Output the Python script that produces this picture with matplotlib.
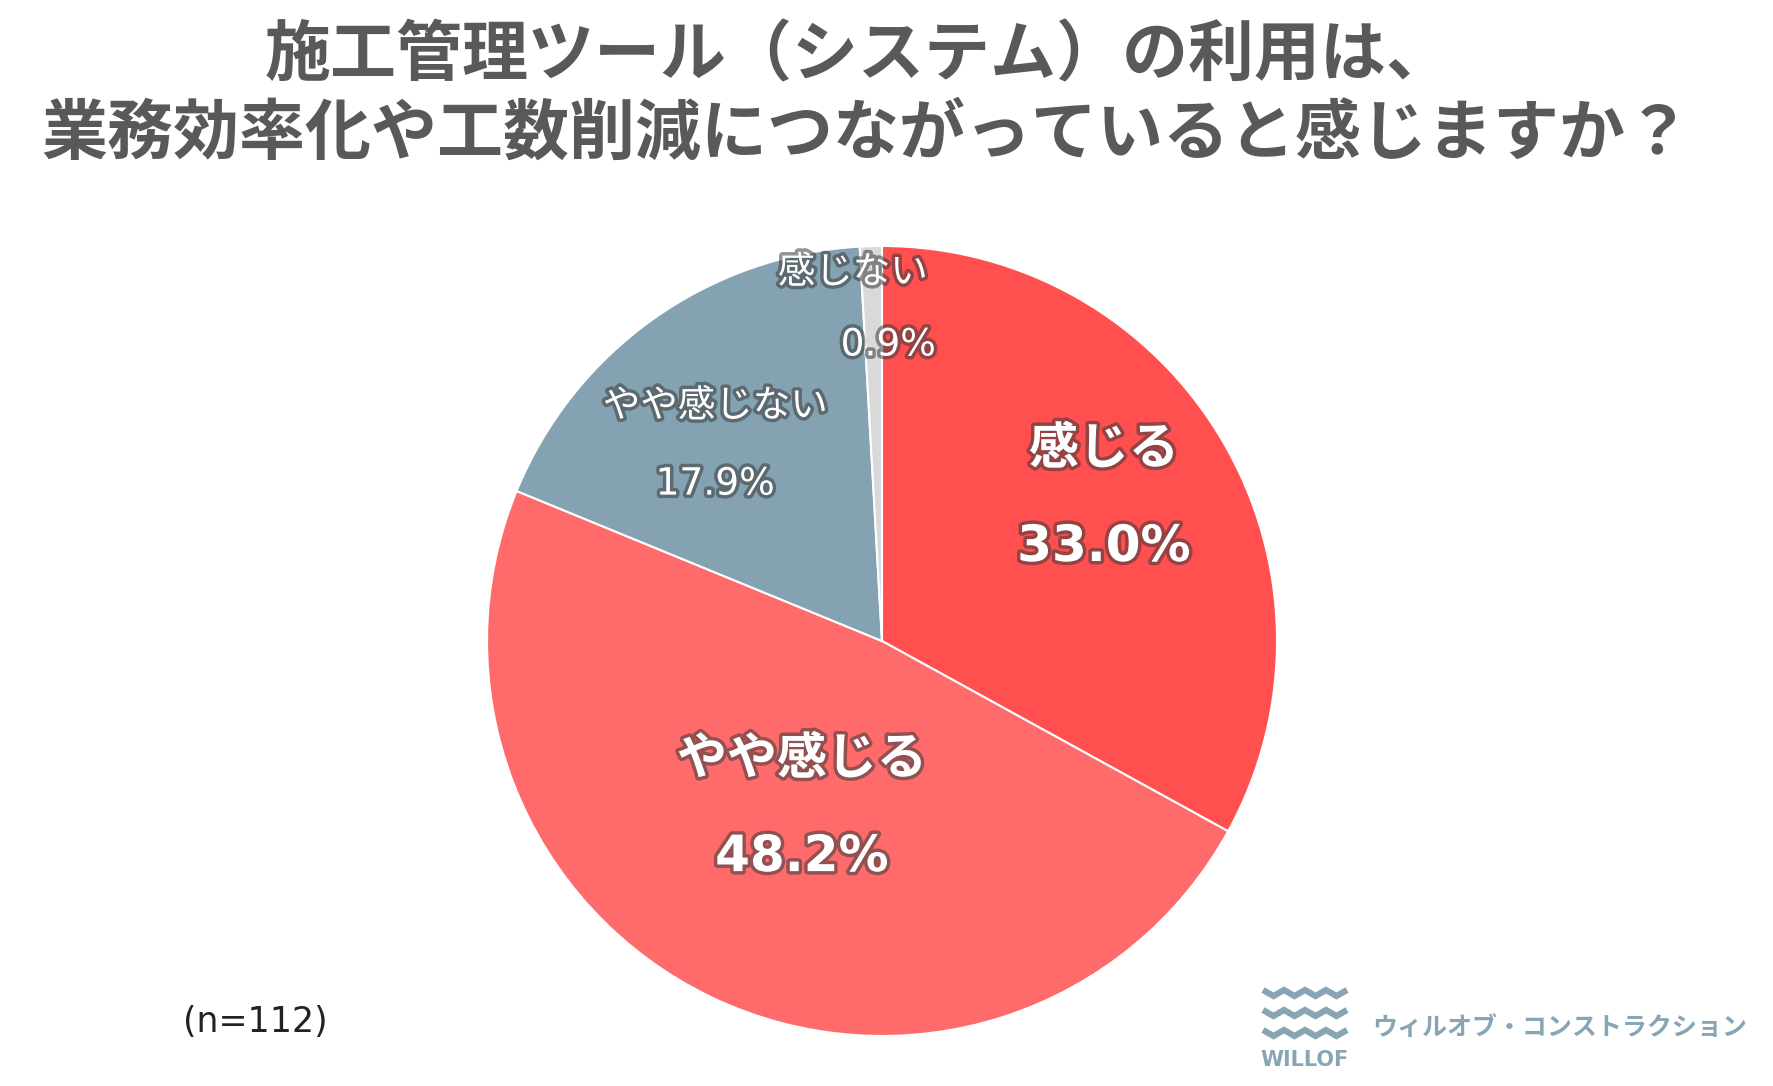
import numpy as np
import matplotlib
matplotlib.use("Agg")
import matplotlib.pyplot as plt
import matplotlib.patheffects as pe

plt.rcParams['font.family'] = ['DejaVu Sans', 'Noto Sans CJK JP']

labels = ["感じる", "やや感じる", "やや感じない", "感じない"]
values = [33.0, 48.2, 17.9, 0.9]
colors = ["#FF4F4F", "#FF6B6B", "#84A2B2", "#D9D9D9"]
title_lines = ["施工管理ツール（システム）の利用は、",
               "業務効率化や工数削減につながっていると感じますか？"]
n_text = "(n=112)"

W, H = 1774, 1086
fig = plt.figure(figsize=(W / 100, H / 100), dpi=100)
fig.patch.set_facecolor("white")

cx, cy, r = 882, 641, 395
ax = fig.add_axes([(cx - r) / W, (H - cy - r) / H, 2 * r / W, 2 * r / H])
wedges, _ = ax.pie(values, colors=colors, startangle=90, counterclock=False,
                   wedgeprops=dict(edgecolor="white", linewidth=1.5))
ax.set_xlim(-1, 1)
ax.set_ylim(-1, 1)
ax.set_axis_off()

# label placement per slice (radius, nudge x, nudge y in axes data units)
label_r = [0.67, 0.47, 0.65, 0.85]
nudge = [(-0.015, 0.02), (0.0, 0.0), (-0.045, -0.035), (-0.03, -0.01)]
pct_dx = [0, 0, 0, 0.07]   # extra shift of percent line for the thin slice
name_dx = [0, 0, 0, -0.02]
bold = [True, True, False, False]
sizes = [36, 36, 27, 27]
gaps = [35, 35, 28, 26]

glow = [pe.withStroke(linewidth=5, foreground="#3a3a3a", alpha=0.55)]
cum = np.cumsum([0] + values[:-1])
for i, (lab, v) in enumerate(zip(labels, values)):
    ang = np.deg2rad(90 - (cum[i] + v / 2) / 100 * 360)
    x = label_r[i] * np.cos(ang) + nudge[i][0]
    y = label_r[i] * np.sin(ang) + nudge[i][1]
    w = "bold" if bold[i] else "normal"
    for txt, off, dx in [(lab, gaps[i], name_dx[i]),
                         (f"{v:.1f}%", -gaps[i], pct_dx[i])]:
        ax.annotate(txt, (x + dx, y), xytext=(0, off), textcoords="offset points",
                    ha="center", va="center", fontsize=sizes[i], fontweight=w,
                    color="white", path_effects=glow)

fig.text(858 / W, 1 - 57 / H, title_lines[0], ha="center", va="center",
         fontsize=47.5, fontweight="bold", color="#595959")
fig.text(866 / W, 1 - 136 / H, title_lines[1], ha="center", va="center",
         fontsize=47.5, fontweight="bold", color="#595959")

fig.text(183 / W, 1 - 1022 / H, n_text, ha="left", va="center", fontsize=25,
         color="#222222")

# logo
logo_c = "#87A5B5"
for k in range(3):
    yb = 993 + k * 20
    xs = np.linspace(1263, 1347, 9)
    ys = np.array([yb + 3 if j % 2 else yb - 3 for j in range(9)])
    fig.add_artist(plt.Line2D(xs / W, 1 - ys / H, color=logo_c, linewidth=4.5,
                              solid_joinstyle="miter", solid_capstyle="butt"))
fig.text(1305 / W, 1 - 1060 / H, "WILLOF", ha="center", va="center",
         fontsize=15, fontweight="bold", color=logo_c)
fig.text(1372 / W, 1 - 1028 / H, "ウィルオブ・コンストラクション", ha="left",
         va="center", fontsize=18, fontweight="bold", color=logo_c)

fig.savefig("out.png", dpi=100, facecolor="white")
